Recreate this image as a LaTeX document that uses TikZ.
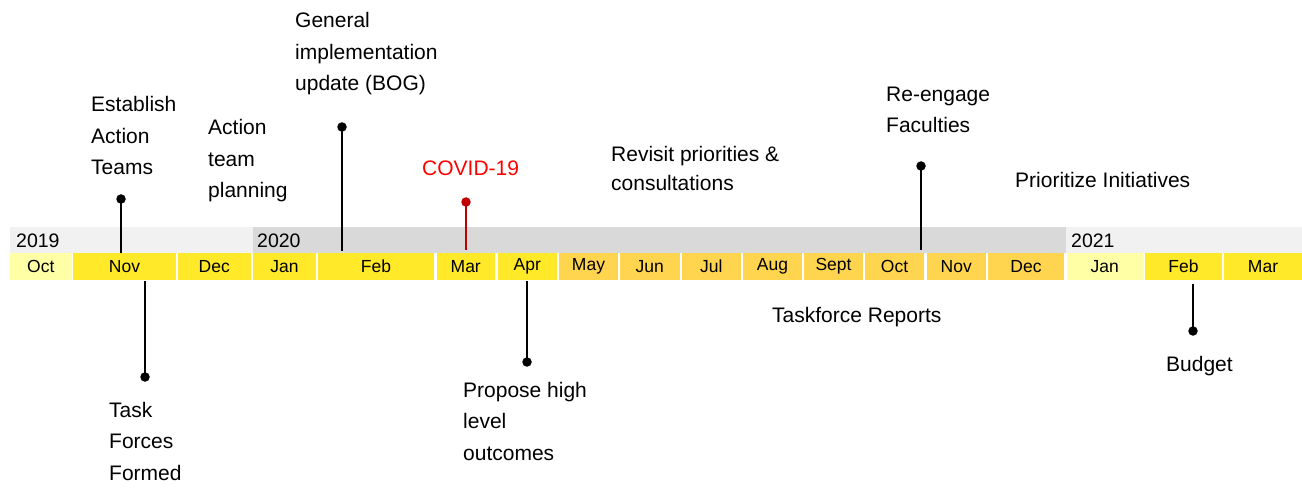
\documentclass[tikz,border=0pt]{standalone}
\usepackage{fontspec}
\setmainfont{Liberation Sans}
\definecolor{yel}{RGB}{255,233,40}
\definecolor{org}{RGB}{255,213,80}
\definecolor{lyel}{RGB}{255,255,166}
\definecolor{gone}{RGB}{241,241,241}
\definecolor{gtwo}{RGB}{217,217,217}
\definecolor{covidred}{RGB}{255,0,0}
\definecolor{stemred}{RGB}{192,0,0}
\newcommand\mlines[1]{\vtop{\halign{##\hfil\cr#1\crcr}}}
\tikzset{
  mcell/.style={inner sep=0pt, minimum height=27pt, font=\fontsize{17.5}{20}\selectfont},
  yearlbl/.style={inner sep=0pt, anchor=base west, font=\fontsize{19.5}{22}\selectfont},
  evt/.style={inner sep=0pt, anchor=base west, font=\fontsize{21}{31.5}\selectfont},
  dotnode/.style={circle, fill=black, inner sep=0pt, minimum size=9.5pt},
  stem/.style={line width=2.4pt, black},
}
\begin{document}
\begin{tikzpicture}[x=1pt,y=-1pt]
\useasboundingbox (0,0) rectangle (1302,489);
% year bands
\fill[gone] (10,227) rectangle (253,253);
\fill[gtwo] (253,227) rectangle (1066,253);
\fill[gone] (1066,227) rectangle (1302,253);
\node[yearlbl] (y2019) at (16,248) {2019};
\node[yearlbl] (y2020) at (257,248) {2020};
\node[yearlbl] (y2021) at (1071,248) {2021};
% month cells
\node[mcell, fill=lyel, minimum width=61.5pt] (oct19) at (40.75,266.5) {Oct};
\node[mcell, fill=yel, minimum width=103pt] (nov19) at (124.5,266.5) {Nov};
\node[mcell, fill=yel, minimum width=73.5pt] (dec19) at (214.25,266.5) {Dec};
\node[mcell, fill=yel, minimum width=63pt] (jan20) at (284.5,266.5) {Jan};
\node[mcell, fill=yel, minimum width=116pt] (feb20) at (376,266.5) {Feb};
\node[mcell, fill=yel, minimum width=58.5pt] (mar20) at (465.75,266.5) {Mar};
\node[mcell, fill=yel, minimum width=59.5pt] (apr20) at (527.25,266.5) {Apr};
\node[mcell, fill=org, minimum width=59pt] (may20) at (588.5,266.5) {May};
\node[mcell, fill=org, minimum width=59.5pt] (jun20) at (649.75,266.5) {Jun};
\node[mcell, fill=org, minimum width=59.5pt] (jul20) at (711.25,266.5) {Jul};
\node[mcell, fill=org, minimum width=59pt] (aug20) at (772.5,266.5) {Aug};
\node[mcell, fill=org, minimum width=59pt] (sep20) at (833.5,266.5) {Sept};
\node[mcell, fill=org, minimum width=59pt] (oct20) at (894.5,266.5) {Oct};
\node[mcell, fill=org, minimum width=59.5pt] (nov20) at (956.25,266.5) {Nov};
\node[mcell, fill=org, minimum width=76pt] (dec20) at (1026,266.5) {Dec};
\node[mcell, fill=lyel, minimum width=76.5pt] (jan21) at (1104.75,266.5) {Jan};
\node[mcell, fill=yel, minimum width=77pt] (feb21) at (1183.5,266.5) {Feb};
\node[mcell, fill=yel, minimum width=78pt] (mar21) at (1263,266.5) {Mar};
% markers above
\node[dotnode] (dEst) at (121,199) {};
\coordinate (eEst) at (121,253);
\draw[stem] (dEst.center) -- (eEst);
\node[dotnode] (dBog) at (342,127) {};
\coordinate (eBog) at (342,251);
\draw[stem] (dBog.center) -- (eBog);
\node[dotnode, fill=stemred] (dCov) at (466,202) {};
\coordinate (eCov) at (466,250);
\draw[stem, stemred] (dCov.center) -- (eCov);
\node[dotnode] (dReg) at (921,166) {};
\coordinate (eReg) at (921,250);
\draw[stem] (dReg.center) -- (eReg);
% markers below
\coordinate (sTask) at (145,281);
\node[dotnode] (dTask) at (145,377) {};
\draw[stem] (sTask) -- (dTask.center);
\coordinate (sProp) at (527,281);
\node[dotnode] (dProp) at (527,362) {};
\draw[stem] (sProp) -- (dProp.center);
\coordinate (sBud) at (1193,284);
\node[dotnode] (dBud) at (1193,331) {};
\draw[stem] (sBud) -- (dBud.center);
% labels
\node[evt] (tEst) at (91,112) {\mlines{Establish\cr Action\cr Teams}};
\node[evt] (tAtp) at (208,135) {\mlines{Action\cr team\cr planning}};
\node[evt] (tBog) at (295,28) {\mlines{General\cr implementation\cr update (BOG)}};
\node[evt, text=covidred] (tCov) at (422,176) {COVID-19};
\node[evt, font=\fontsize{21}{28.5}\selectfont] (tRev) at (611,162) {\mlines{Revisit priorities \&\cr consultations}};
\node[evt, font=\fontsize{21}{30.5}\selectfont] (tReg) at (886,102) {\mlines{Re-engage\cr Faculties}};
\node[evt] (tPri) at (1015,188) {Prioritize Initiatives};
\node[evt] (tTask) at (109,417) {\mlines{Task\cr Forces\cr Formed}};
\node[evt] (tProp) at (463,397) {\mlines{Propose high\cr level\cr outcomes}};
\node[evt] (tRep) at (772,323) {Taskforce Reports};
\node[evt] (tBud) at (1166,371) {Budget};
\end{tikzpicture}
\end{document}
